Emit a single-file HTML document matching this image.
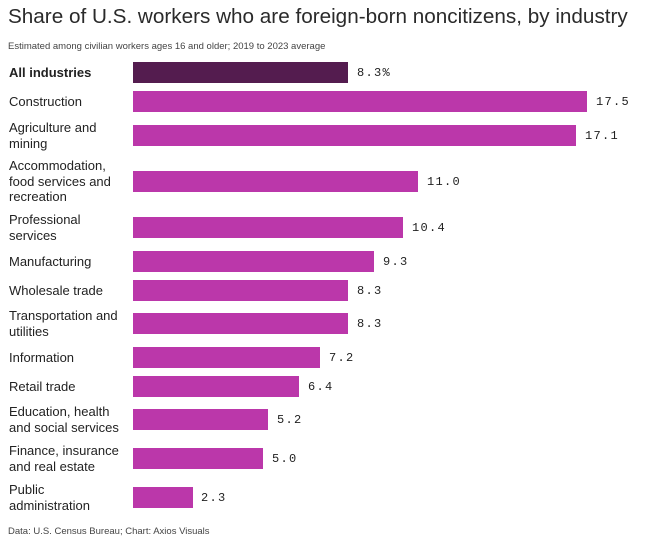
<!DOCTYPE html>
<html><head><meta charset="utf-8"><style>
body{margin:0;width:651px;height:557px;background:#fff;position:relative;font-family:"Liberation Sans",sans-serif;color:#222;overflow:hidden}
.t{position:absolute;left:8px;top:5px;font-size:20.7px;color:#2a2a2a;letter-spacing:0;white-space:nowrap}
.s{position:absolute;left:8px;top:41px;font-size:9.5px;color:#444}
.f{position:absolute;left:8px;top:526px;font-size:9.5px;color:#444}
.l{position:absolute;left:9px;font-size:13px;line-height:15.5px;color:#222;white-space:nowrap}
.b{position:absolute;left:133px;height:21px;background:#bb37aa}
.v{position:absolute;font-family:"Liberation Mono",monospace;font-size:12px;color:#222;letter-spacing:1.3px}
</style></head><body>
<div class="t">Share of U.S. workers who are foreign-born noncitizens, by industry</div>
<div class="s">Estimated among civilian workers ages 16 and older; 2019 to 2023 average</div>

<div class="l" style="top:65px;font-weight:bold">All industries</div>
<div class="b" style="top:62px;width:215px;background:#541c4f"></div>
<div class="v" style="top:66px;left:357px">8.3%</div>

<div class="l" style="top:94px">Construction</div>
<div class="b" style="top:91px;width:454px"></div>
<div class="v" style="top:95px;left:596px">17.5</div>

<div class="l" style="top:120px">Agriculture and<br>mining</div>
<div class="b" style="top:125px;width:443px"></div>
<div class="v" style="top:129px;left:585px">17.1</div>

<div class="l" style="top:158px">Accommodation,<br>food services and<br>recreation</div>
<div class="b" style="top:171px;width:285px"></div>
<div class="v" style="top:175px;left:427px">11.0</div>

<div class="l" style="top:212px">Professional<br>services</div>
<div class="b" style="top:217px;width:270px"></div>
<div class="v" style="top:221px;left:412px">10.4</div>

<div class="l" style="top:254px">Manufacturing</div>
<div class="b" style="top:251px;width:241px"></div>
<div class="v" style="top:255px;left:383px">9.3</div>

<div class="l" style="top:283px">Wholesale trade</div>
<div class="b" style="top:280px;width:215px"></div>
<div class="v" style="top:284px;left:357px">8.3</div>

<div class="l" style="top:308px">Transportation and<br>utilities</div>
<div class="b" style="top:313px;width:215px"></div>
<div class="v" style="top:317px;left:357px">8.3</div>

<div class="l" style="top:350px">Information</div>
<div class="b" style="top:347px;width:187px"></div>
<div class="v" style="top:351px;left:329px">7.2</div>

<div class="l" style="top:379px">Retail trade</div>
<div class="b" style="top:376px;width:166px"></div>
<div class="v" style="top:380px;left:308px">6.4</div>

<div class="l" style="top:404px">Education, health<br>and social services</div>
<div class="b" style="top:409px;width:135px"></div>
<div class="v" style="top:413px;left:277px">5.2</div>

<div class="l" style="top:443px">Finance, insurance<br>and real estate</div>
<div class="b" style="top:448px;width:130px"></div>
<div class="v" style="top:452px;left:272px">5.0</div>

<div class="l" style="top:482px">Public<br>administration</div>
<div class="b" style="top:487px;width:60px"></div>
<div class="v" style="top:491px;left:201px">2.3</div>

<div class="f">Data: U.S. Census Bureau; Chart: Axios Visuals</div>
</body></html>
